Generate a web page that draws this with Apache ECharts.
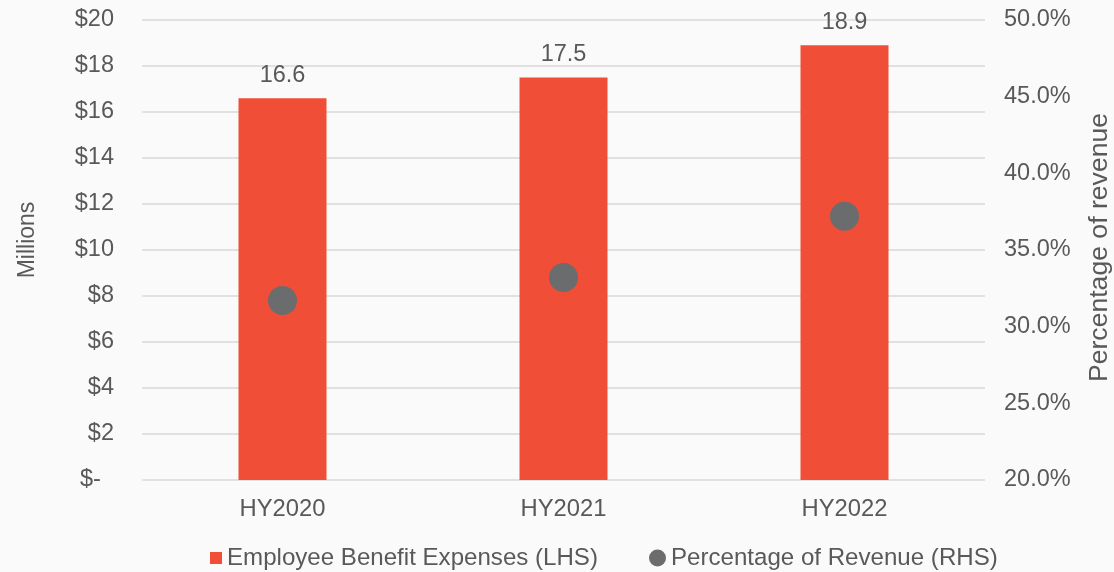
<!DOCTYPE html>
<html>
<head>
<meta charset="utf-8">
<script src="https://cdn.jsdelivr.net/npm/echarts@6/dist/echarts.min.js"></script>
<style>
  html, body { margin: 0; padding: 0; background: #fafafa; }
  #chart { width: 1114px; height: 572px; }
</style>
</head>
<body>
<div id="chart"></div>
<script>
// Half-year periods
const categories = ['HY2020', 'HY2021', 'HY2022'];
// Employee benefit expenses, $ millions (left axis)
const expenses = [16.6, 17.5, 18.9];
// Employee benefit expenses as percentage of revenue (right axis)
const pctRevenue = [31.7, 33.2, 37.2];
// Axis tick settings
const leftTicks = { min: 0, max: 20, interval: 2 };
const rightTicks = { min: 20, max: 50, interval: 5 };

const FONT = "'Liberation Sans', Arial, sans-serif";
const TEXT = '#595959';
const BAR = '#f04e37';
const DOT = '#6b6c6e';
const SERIES_BAR = 'Employee Benefit Expenses (LHS)';
const SERIES_DOT = 'Percentage of Revenue (RHS)';

const chart = echarts.init(document.getElementById('chart'), null, { renderer: 'canvas' });

const legendText = { fontFamily: FONT, fontSize: 24.1, color: TEXT };

chart.setOption({
  backgroundColor: '#fafafa',
  animation: false,
  textStyle: { fontFamily: FONT, color: TEXT },
  grid: {
    left: 142, right: 129, top: 20, bottom: 92,
    containLabel: false,
    outerBoundsMode: 'none'
  },
  // Two legends so the square and the circle keys can be sized separately
  legend: [
    {
      top: 546,
      left: 210,
      padding: 0,
      itemWidth: 12,
      itemHeight: 12,
      textStyle: legendText,
      data: [{ name: SERIES_BAR, icon: 'rect' }]
    },
    {
      top: 546,
      left: 649,
      padding: 0,
      itemWidth: 17,
      itemHeight: 17,
      textStyle: legendText,
      data: [{ name: SERIES_DOT, icon: 'circle' }]
    }
  ],
  xAxis: {
    type: 'category',
    data: categories,
    axisLine: { show: false },
    axisTick: { show: false },
    axisLabel: { fontFamily: FONT, fontSize: 23.8, color: TEXT, margin: 17 }
  },
  yAxis: [
    {
      type: 'value',
      min: leftTicks.min,
      max: leftTicks.max,
      interval: leftTicks.interval,
      name: 'Millions',
      nameLocation: 'middle',
      nameRotate: 90,
      nameGap: 103,
      nameTextStyle: { fontFamily: FONT, fontSize: 23, color: TEXT, padding: [0, 0, 0, 20] },
      axisLine: { show: false },
      axisTick: { show: false },
      splitLine: { lineStyle: { color: '#d9d9d9', width: 1.5 } },
      axisLabel: {
        fontFamily: FONT, fontSize: 23.5, color: TEXT, margin: 28,
        formatter: v => v === 0 ? '$-  ' : '$' + v
      }
    },
    {
      type: 'value',
      position: 'right',
      min: rightTicks.min,
      max: rightTicks.max,
      interval: rightTicks.interval,
      name: 'Percentage of revenue',
      nameLocation: 'middle',
      nameRotate: 90,
      nameGap: 101,
      nameTextStyle: { fontFamily: FONT, fontSize: 26.6, color: TEXT, padding: [0, 0, 0, 5] },
      axisLine: { show: false },
      axisTick: { show: false },
      splitLine: { show: false },
      axisLabel: {
        fontFamily: FONT, fontSize: 23.5, color: TEXT, margin: 19,
        formatter: v => v.toFixed(1) + '%'
      }
    }
  ],
  series: [
    {
      name: SERIES_BAR,
      type: 'bar',
      data: expenses,
      barWidth: 88,
      itemStyle: { color: BAR },
      label: {
        show: true,
        position: 'top',
        distance: 11,
        fontFamily: FONT,
        fontSize: 23.5,
        color: TEXT,
        formatter: p => p.value.toFixed(1)
      }
    },
    {
      name: SERIES_DOT,
      type: 'scatter',
      yAxisIndex: 1,
      data: pctRevenue,
      symbol: 'circle',
      symbolSize: 29,
      itemStyle: { color: DOT, opacity: 1 },
      z: 3
    }
  ]
});
</script>
</body>
</html>
